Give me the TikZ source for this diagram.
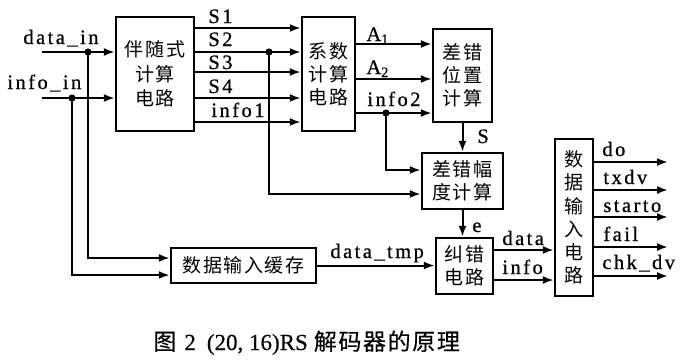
\documentclass[tikz,border=0pt]{standalone}
\usepackage{fontspec}
\setmainfont{Liberation Serif}
\newfontfamily\cjk[LetterSpace=8]{Noto Sans CJK SC}
\newfontfamily\capcjk[LetterSpace=7,FakeBold=0.3]{Noto Sans CJK SC}
\newfontfamily\caplat[FakeBold=0.4]{Liberation Serif}
\newfontfamily\lbl[LetterSpace=12,FakeBold=0.7]{Liberation Serif}
\usetikzlibrary{arrows.meta}
\begin{document}
\begin{tikzpicture}[x=0.5pt,y=-0.5pt,
  box/.style={draw, line width=1.2pt, inner sep=0pt, align=center,
    font=\cjk\fontsize{9.5}{11.6}\selectfont},
  arr/.style={line width=1pt, -{Latex[length=5.5pt,width=4pt]}},
  lab/.style={anchor=base west, inner sep=0pt, font=\lbl\fontsize{10.25}{12}\selectfont},
  dot/.style={fill, circle, inner sep=0pt, minimum size=3.6pt}]
\useasboundingbox (0,0) rectangle (680,361);

% boxes
\node[box, minimum width=39pt, minimum height=57pt,
      font=\cjk\fontsize{9.5}{12.25}\selectfont] (b1) at (155,74) {伴随式\\计算\\电路};
\node[box, minimum width=26.5pt, minimum height=57pt] (b2) at (328.5,74) {系数\\计算\\电路};
\node[box, minimum width=29.5pt, minimum height=46.5pt] (b3) at (462.5,75.5) {差错\\位置\\计算};
\node[box, minimum width=40.5pt, minimum height=28pt] (b4) at (462.5,181) {差错幅\\度计算};
\node[box, minimum width=28.5pt, minimum height=28pt] (b5) at (464.5,266) {纠错\\电路};
\node[box, minimum width=72.5pt, minimum height=17.5pt] (b6) at (243.5,265.5) {数据输入缓存};
\node[box, minimum width=19pt, minimum height=78.5pt] (b7) at (574,217.5) {数\\据\\输\\入\\电\\路};

% inputs
\coordinate (din) at (42,52);
\coordinate (iin) at (42,98);
\coordinate (dd) at (88,52);
\coordinate (id) at (72,98);
\draw[arr] (din) -- (din -| b1.west);
\draw[arr] (iin) -- (iin -| b1.west);
\draw[arr] (dd) |- (b6.west |- 0,258);
\draw[arr] (id) |- (b6.west |- 0,275);
\node[dot] (dotd) at (dd) {};
\node[dot] (doti) at (id) {};
\node[lab] (ldin) at (23,44) {data\_in};
\node[lab] (liin) at (7,89) {info\_in};

% box1 -> box2
\foreach \y in {28,52,72,98,122}
  \draw[arr] (b1.east |- 0,\y) -- (b2.west |- 0,\y);
\node[lab] (ls1) at (208,23) {S1};
\node[lab] (ls2) at (208,46) {S2};
\node[lab] (ls3) at (208,69) {S3};
\node[lab] (ls4) at (208,93) {S4};
\node[lab] (li1) at (211,117) {info1};
\coordinate (s2d) at (269,52);
\draw[arr] (s2d) |- (b4.west |- 0,194);
\node[dot] (dots2) at (s2d) {};

% box2 -> box3
\draw[arr] (b2.east |- 0,44) -- (b3.west |- 0,44);
\draw[arr] (b2.east |- 0,79) -- (b3.west |- 0,79);
\draw[arr] (b2.east |- 0,113) -- (b3.west |- 0,113);
\node[lab] (la1) at (366,41) {A\textsubscript{1}};
\node[lab] (la2) at (366,74) {A\textsubscript{2}};
\node[lab] (li2) at (367,106) {info2};
\coordinate (i2d) at (386,113);
\draw[arr] (i2d) |- (b4.west |- 0,170);
\node[dot] (doti2) at (i2d) {};

% S and e
\draw[arr] (b3.south) -- (b4.north);
\node[lab] (lS) at (477,143) {S};
\draw[arr] (b4.south) -- (b4.south |- b5.north);
\node[lab] (le) at (472,232) {e};

% data_tmp
\draw[arr] (b6.east) -- (b6.east -| b5.west);
\node[lab] (ldt) at (330,258) {data\_tmp};

% box5 -> box7
\draw[arr] (b5.east |- 0,250) -- (b7.west |- 0,250);
\draw[arr] (b5.east |- 0,280) -- (b7.west |- 0,280);
\node[lab] (ldata) at (502,245) {data};
\node[lab] (linfo) at (502,274) {info};

% outputs
\foreach \y/\n in {162/o1,190/o2,217/o3,247/o4,276/o5}{
  \coordinate (\n) at (668,\y);
  \draw[arr] (b7.east |- \n) -- (\n);
}
\node[lab] (ldo) at (602,156) {do};
\node[lab] (ltx) at (603,184) {txdv};
\node[lab] (lst) at (603,212) {starto};
\node[lab] (lfa) at (603,241) {fail};
\node[lab] (lck) at (602,269) {chk\_dv};

% caption
\node[anchor=base west, inner sep=0pt, font=\caplat\fontsize{11.5}{13}\selectfont] (cap) at (153,350)
  {{\capcjk 图}\hspace{4pt}2\hspace{5.5pt}(20, 16)RS\hspace{3pt}{\capcjk 解码器的原理}};
\end{tikzpicture}
\end{document}
